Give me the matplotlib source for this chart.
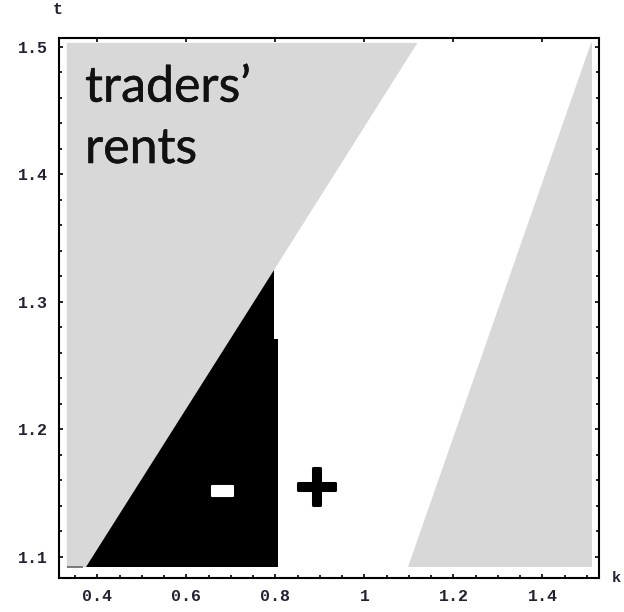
import matplotlib
matplotlib.use("Agg")
import matplotlib.pyplot as plt
import matplotlib.patheffects as pe
from matplotlib.ticker import MultipleLocator, FixedLocator

# ---- data (region boundaries) ----
k_range = [0.331, 1.511]          # plotted k-range of the regions
t_range = [1.092, 1.503]          # plotted t-range of the regions

# diagonal boundary of the left grey region (k at t_range[0], t_range[1])
diag_k = [0.375, 1.119]
# vertical boundary of the black region
black_k = [0.806, 0.806, 0.796, 0.796]
black_t = [1.092, 1.271, 1.271, 1.3246]
# boundary of the right grey region
right_k = [1.097, 1.508]
# small dark sliver at bottom-left
sliver_k = [0.331, 0.368]

x_major = [0.4, 0.6, 0.8, 1.0, 1.2, 1.4]
x_labels = ["0.4", "0.6", "0.8", "1", "1.2", "1.4"]
y_major = [1.1, 1.2, 1.3, 1.4, 1.5]
y_labels = ["1.1", "1.2", "1.3", "1.4", "1.5"]

GREY = "#d8d8d8"

fig = plt.figure(figsize=(6.24, 6.12), dpi=100)
ax = fig.add_axes([59/624, 1-578/612, 540/624, 540/612])
ax.set_xlim(0.3135, 1.527)
ax.set_ylim(1.0835, 1.5068)

t0, t1 = t_range
k0, k1 = k_range

# left grey region
ax.fill([k0, diag_k[0], diag_k[1], k0], [t0, t0, t1, t1], color=GREY, lw=0)
# black region
apex_t = black_t[-1]
apex_k = diag_k[0] + (diag_k[1]-diag_k[0])*(apex_t-t0)/(t1-t0)
ax.fill([diag_k[0]] + black_k + [apex_k],
        [t0] + black_t + [apex_t], color="black", lw=0)
# right grey region
ax.fill([right_k[0], k1, k1, right_k[1]], [t0, t0, t1, t1], color=GREY, lw=0)
# sliver
ax.plot(sliver_k, [t0, t0], color="#666666", lw=1.2, solid_capstyle="butt")

# texts
txtfont = ["Lato", "DejaVu Sans"]
for s, yb in (("traders\u2019", 1.4569), ("rents", 1.4088)):
    ax.text(0.372, yb, s, family=txtfont, fontsize=36, color="#111111",
            ha="left", va="baseline",
            path_effects=[pe.withStroke(linewidth=0.35, foreground="#111111")])
ax.text(0.681, 1.1513, "-", family=["DejaVu Sans"], fontweight="bold",
        fontsize=50, color="white", ha="center", va="center",
        path_effects=[pe.withStroke(linewidth=1.5, foreground="white")])
ax.text(0.892, 1.1537, "+", family=["DejaVu Sans"], fontweight="bold",
        fontsize=42, color="black", ha="center", va="center",
        path_effects=[pe.withStroke(linewidth=2.2, foreground="black")])

# axes styling
for s in ax.spines.values():
    s.set_linewidth(1.5)
    s.set_color("black")

ax.xaxis.set_major_locator(FixedLocator(x_major))
ax.set_xticklabels(x_labels)
ax.yaxis.set_major_locator(FixedLocator(y_major))
ax.set_yticklabels(y_labels)
ax.xaxis.set_minor_locator(MultipleLocator(0.05))
ax.yaxis.set_minor_locator(MultipleLocator(0.02))

monofam = ["Liberation Mono", "DejaVu Sans Mono"]
ax.tick_params(which="both", direction="in", top=True, right=True,
               width=1.2, color="black", labelcolor="#222233")
ax.tick_params(which="major", length=3.0, pad=8)
ax.tick_params(which="minor", length=2.2, top=False)
for lab in ax.get_xticklabels() + ax.get_yticklabels():
    lab.set_fontfamily(monofam)
    lab.set_fontweight("bold")
    lab.set_fontsize(12)

fig.text(58/624, 1-10/612, "t", ha="center", va="center",
         family=monofam, weight="bold", fontsize=12, color="#222233")
fig.text(612/624, 1-578/612, "k", ha="left", va="center",
         family=monofam, weight="bold", fontsize=11, color="#222233")

fig.savefig("out.png", dpi=100)
